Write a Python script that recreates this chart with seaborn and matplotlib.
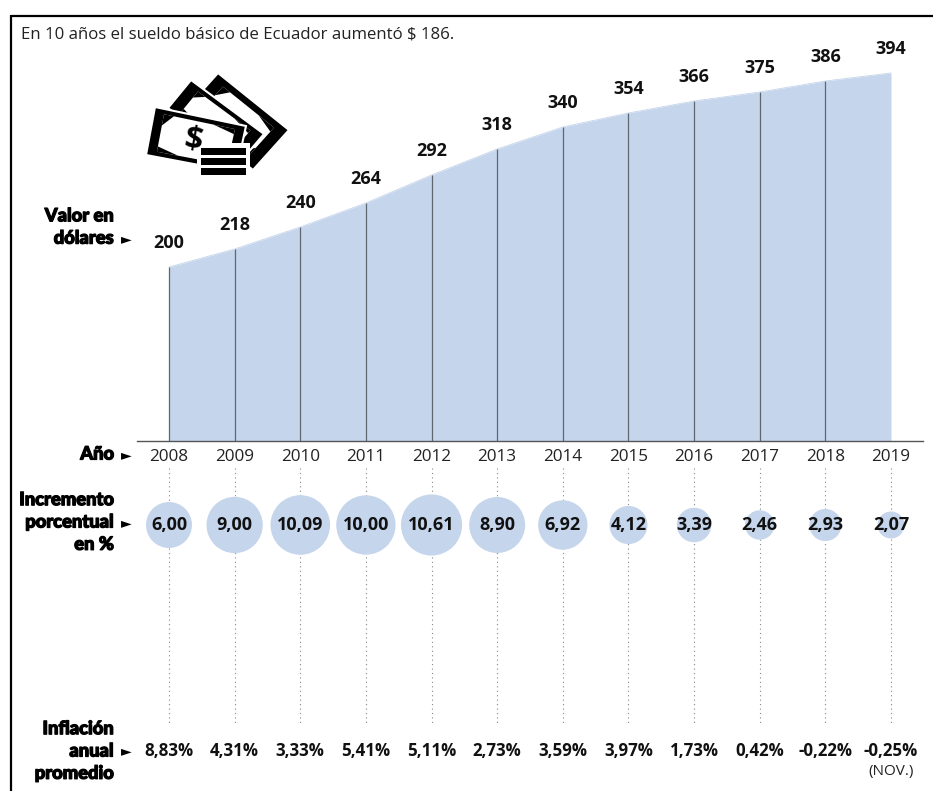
import matplotlib
matplotlib.use("Agg")
import matplotlib.pyplot as plt
import matplotlib.patheffects as pe
from matplotlib.patches import Polygon, Rectangle
import numpy as np
import pandas as pd
import seaborn as sns

years = [2008, 2009, 2010, 2011, 2012, 2013, 2014, 2015, 2016, 2017, 2018, 2019]
salary = [200, 218, 240, 264, 292, 318, 340, 354, 366, 375, 386, 394]
increase = [6.00, 9.00, 10.09, 10.00, 10.61, 8.90, 6.92, 4.12, 3.39, 2.46, 2.93, 2.07]
increase_labels = ["6,00", "9,00", "10,09", "10,00", "10,61", "8,90", "6,92", "4,12", "3,39", "2,46", "2,93", "2,07"]
inflation_labels = ["8,83%", "4,31%", "3,33%", "5,41%", "5,11%", "2,73%", "3,59%", "3,97%", "1,73%", "0,42%", "-0,22%", "-0,25%"]
title = "En 10 años el sueldo básico de Ecuador aumentó $ 186."

sns.set_theme(style="white")
plt.rcParams["font.family"] = ["Open Sans", "DejaVu Sans"]

W, H = 933, 791
BLUE = "#c5d5ec"
df = pd.DataFrame({"year": years, "salary": salary, "increase": increase})

fig = plt.figure(figsize=(W / 100, H / 100), dpi=100, facecolor="white")

# capa en pixeles para marco, rotulos e icono
page = fig.add_axes([0, 0, 1, 1], zorder=5)
page.set_xlim(0, W)
page.set_ylim(H, 0)
page.axis("off")

# mismo eje x para las dos zonas
step = (891 - 169) / 11
xlim = (2008 - (169 - 137) / step, 2008 + (923 - 169) / step)

# area de salarios
ax = fig.add_axes([137 / W, (H - 441) / H, (923 - 137) / W, 425 / H])
ax.fill_between(years, salary, 26, color=BLUE, lw=0)
sns.lineplot(data=df, x="year", y="salary", color=BLUE, lw=0.6, ax=ax)
ax.vlines(years[:-1], 26, salary[:-1], color="#5f6670", lw=0.9)
for y, v in zip(years, salary):
    ax.annotate(str(v), (y, v), xytext=(0, 17), textcoords="offset points",
                ha="center", va="center", fontsize=13, fontweight="bold", color="#111111")
ax.set_xlim(xlim)
ax.set_ylim(26, 451)
sns.despine(ax=ax, left=True, top=True, right=True)
ax.spines["bottom"].set_color("#555555")
ax.spines["bottom"].set_linewidth(1)
ax.set_xticks([])
ax.set_yticks([])
ax.set_xlabel("")
ax.set_ylabel("")
ax.patch.set_alpha(0)

# fila de circulos, anos e inflacion
row = fig.add_axes([137 / W, 0, (923 - 137) / W, (H - 441) / H])
row.set_xlim(xlim)
row.set_ylim(H, 441)
row.axis("off")
row.vlines(years, 468, 725, color="#888888", lw=0.8, linestyles=(0, (1, 3)), zorder=1)
df["row_y"] = 525
sns.scatterplot(data=df, x="year", y="row_y", size="increase", size_norm=(2.07, 10.61),
                sizes=(182.5 * 2.07, 182.5 * 10.61), color=BLUE, linewidth=0,
                legend=False, zorder=2, ax=row)
row.set_xlim(xlim)
row.set_ylim(H, 441)
for y, a, b in zip(years, increase_labels, inflation_labels):
    row.text(y, 457, str(y), ha="center", va="center", fontsize=12.3, color="#222222", zorder=3)
    row.text(y, 525, a, ha="center", va="center", fontsize=13, fontweight="bold", color="#111111", zorder=3)
    row.text(y, 751, b, ha="center", va="center", fontsize=12.2, fontweight="bold", color="#111111", zorder=3)
row.text(2019, 771, "(NOV.)", ha="center", va="center", fontsize=11, color="#222222", zorder=3)

# marco
page.plot([11, 11], [15, H], color="black", lw=1.6, solid_capstyle="butt")
page.plot([11, W], [15.5, 15.5], color="black", lw=1.6, solid_capstyle="butt")
page.text(21, 34, title, ha="left", va="center", fontsize=12.05, color="#222222")

# rotulos de la izquierda
side_labels = [
    ("Valor en\ndólares", 227, 239),
    ("Año", 454, 455),
    ("Incremento\nporcentual\nen %", 522, 523),
    ("Inflación\nanual\npromedio", 751, 751),
]
for txt, yc, ya in side_labels:
    t = page.text(114, yc, txt, ha="right", va="center", fontsize=13.2, fontweight="black",
                  family="Lato", linespacing=1.38, color="black")
    t.set_path_effects([pe.withStroke(linewidth=0.9, foreground="black")])
    page.text(126, ya, "►", ha="center", va="center", fontsize=10, family="DejaVu Sans", color="black")


# icono de billetes
def note(corners, shrink=0.72):
    pts = np.array(corners, dtype=float)
    c = pts.mean(axis=0)
    inner = c + (pts - c) * shrink
    page.add_patch(Polygon(pts, closed=True, fc="black", ec="white", lw=1.5))
    page.add_patch(Polygon(inner, closed=True, fc="white", ec="none"))
    # esquinas gruesas del billete
    for i in range(4):
        a = inner[i]
        b = inner[(i + 1) % 4]
        d = inner[(i - 1) % 4]
        page.add_patch(Polygon([a, a + (b - a) * 0.14, a + (d - a) * 0.3], closed=True, fc="black", ec="none"))


note([(218, 73), (289, 130), (253, 170), (182, 113)])
note([(191, 80), (264, 134), (240, 162), (168, 108)])
note([(155, 107), (246, 126), (236, 172), (146, 155)], shrink=0.78)
page.text(193, 141, "$", ha="center", va="center", fontsize=23, fontweight="bold",
          rotation=-10, color="black")
page.add_patch(Rectangle((197, 143), 53, 35, fc="white", ec="none"))
for top in (148, 158, 168):
    page.add_patch(Rectangle((201, top), 45, 7, fc="black", ec="none"))

fig.savefig("out.png", dpi=100)
